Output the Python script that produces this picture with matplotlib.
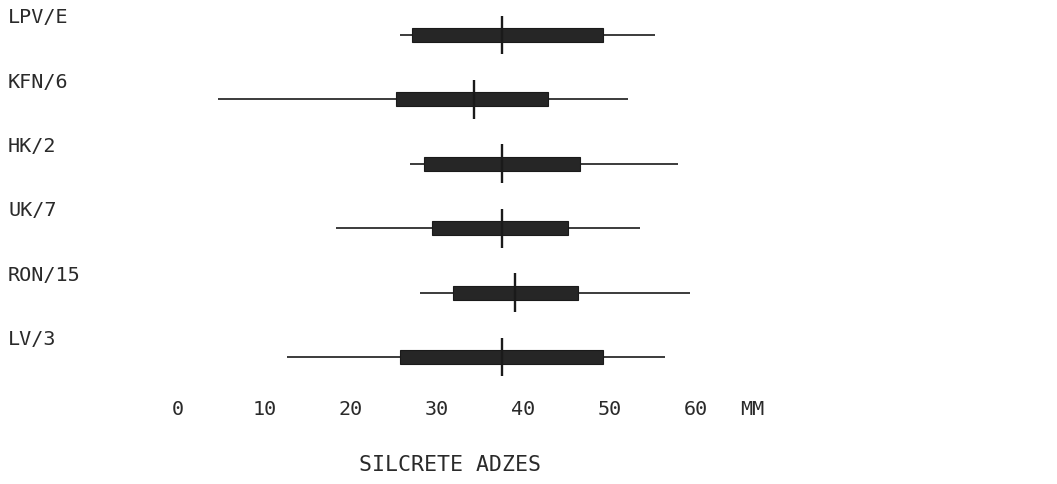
import matplotlib.pyplot as plt

# sites, top to bottom
sites = ["LPV/E", "KFN/6", "HK/2", "UK/7", "RON/15", "LV/3"]
# whisker ends, box ends and median (mm)
w_lo = [25.7, 4.6, 26.9, 18.3, 28.0, 12.6]
q_lo = [27.1, 25.3, 28.5, 29.4, 31.9, 25.7]
med = [37.5, 34.3, 37.5, 37.5, 39.1, 37.5]
q_hi = [49.2, 42.9, 46.6, 45.2, 46.4, 49.2]
w_hi = [55.3, 52.1, 57.9, 53.5, 59.3, 56.4]
ticks = [0, 10, 20, 30, 40, 50, 60]

plt.rcParams['font.family'] = ['DejaVu Sans Mono']
ink = '#1a1a1a'
txt = '#2a2a2a'

fig = plt.figure(figsize=(10.57, 4.84), dpi=100)
# axes spans whole width; bottom edge just above the tick labels
ax = fig.add_axes([0, (484 - 390) / 484, 1, 390 / 484])
px = 8.63  # pixels per mm
ax.set_xlim(-178 / px, (1057 - 178) / px)
row = 64.4
ax.set_ylim((390 - 35) / row, -35 / row)

ys = list(range(len(sites)))
ax.hlines(ys, w_lo, w_hi, color=ink, lw=1.2, zorder=1)
ax.barh(ys, [h - l for l, h in zip(q_lo, q_hi)], left=q_lo, height=0.22,
        color='#262626', edgecolor=ink, lw=0.8, zorder=2)
ax.vlines(med, [y - 0.3 for y in ys], [y + 0.3 for y in ys], color=ink,
          lw=1.7, zorder=3)

for y, s in zip(ys, sites):
    ax.text(-178 / px + 8 / px, y - 0.27, s, fontsize=14.5, color=txt,
            ha='left', va='center')

for sp in ax.spines.values():
    sp.set_visible(False)
ax.set_yticks([])
ax.set_xticks(ticks)
ax.set_xticklabels([str(t) for t in ticks], fontsize=14.5, color=txt)
ax.tick_params(axis='x', length=0, pad=7)
ax.text(66.5, -10 / 390, "MM", transform=ax.get_xaxis_transform(),
        fontsize=14.5, color=txt, ha='center', va='top')

ax.set_xlabel("SILCRETE ADZES", fontsize=15.5, color=txt, labelpad=0)
ax.xaxis.set_label_coords(450 / 1057, -(465 - 390) / 390)
ax.xaxis.label.set_va('center')

fig.savefig("out.png", dpi=100)
